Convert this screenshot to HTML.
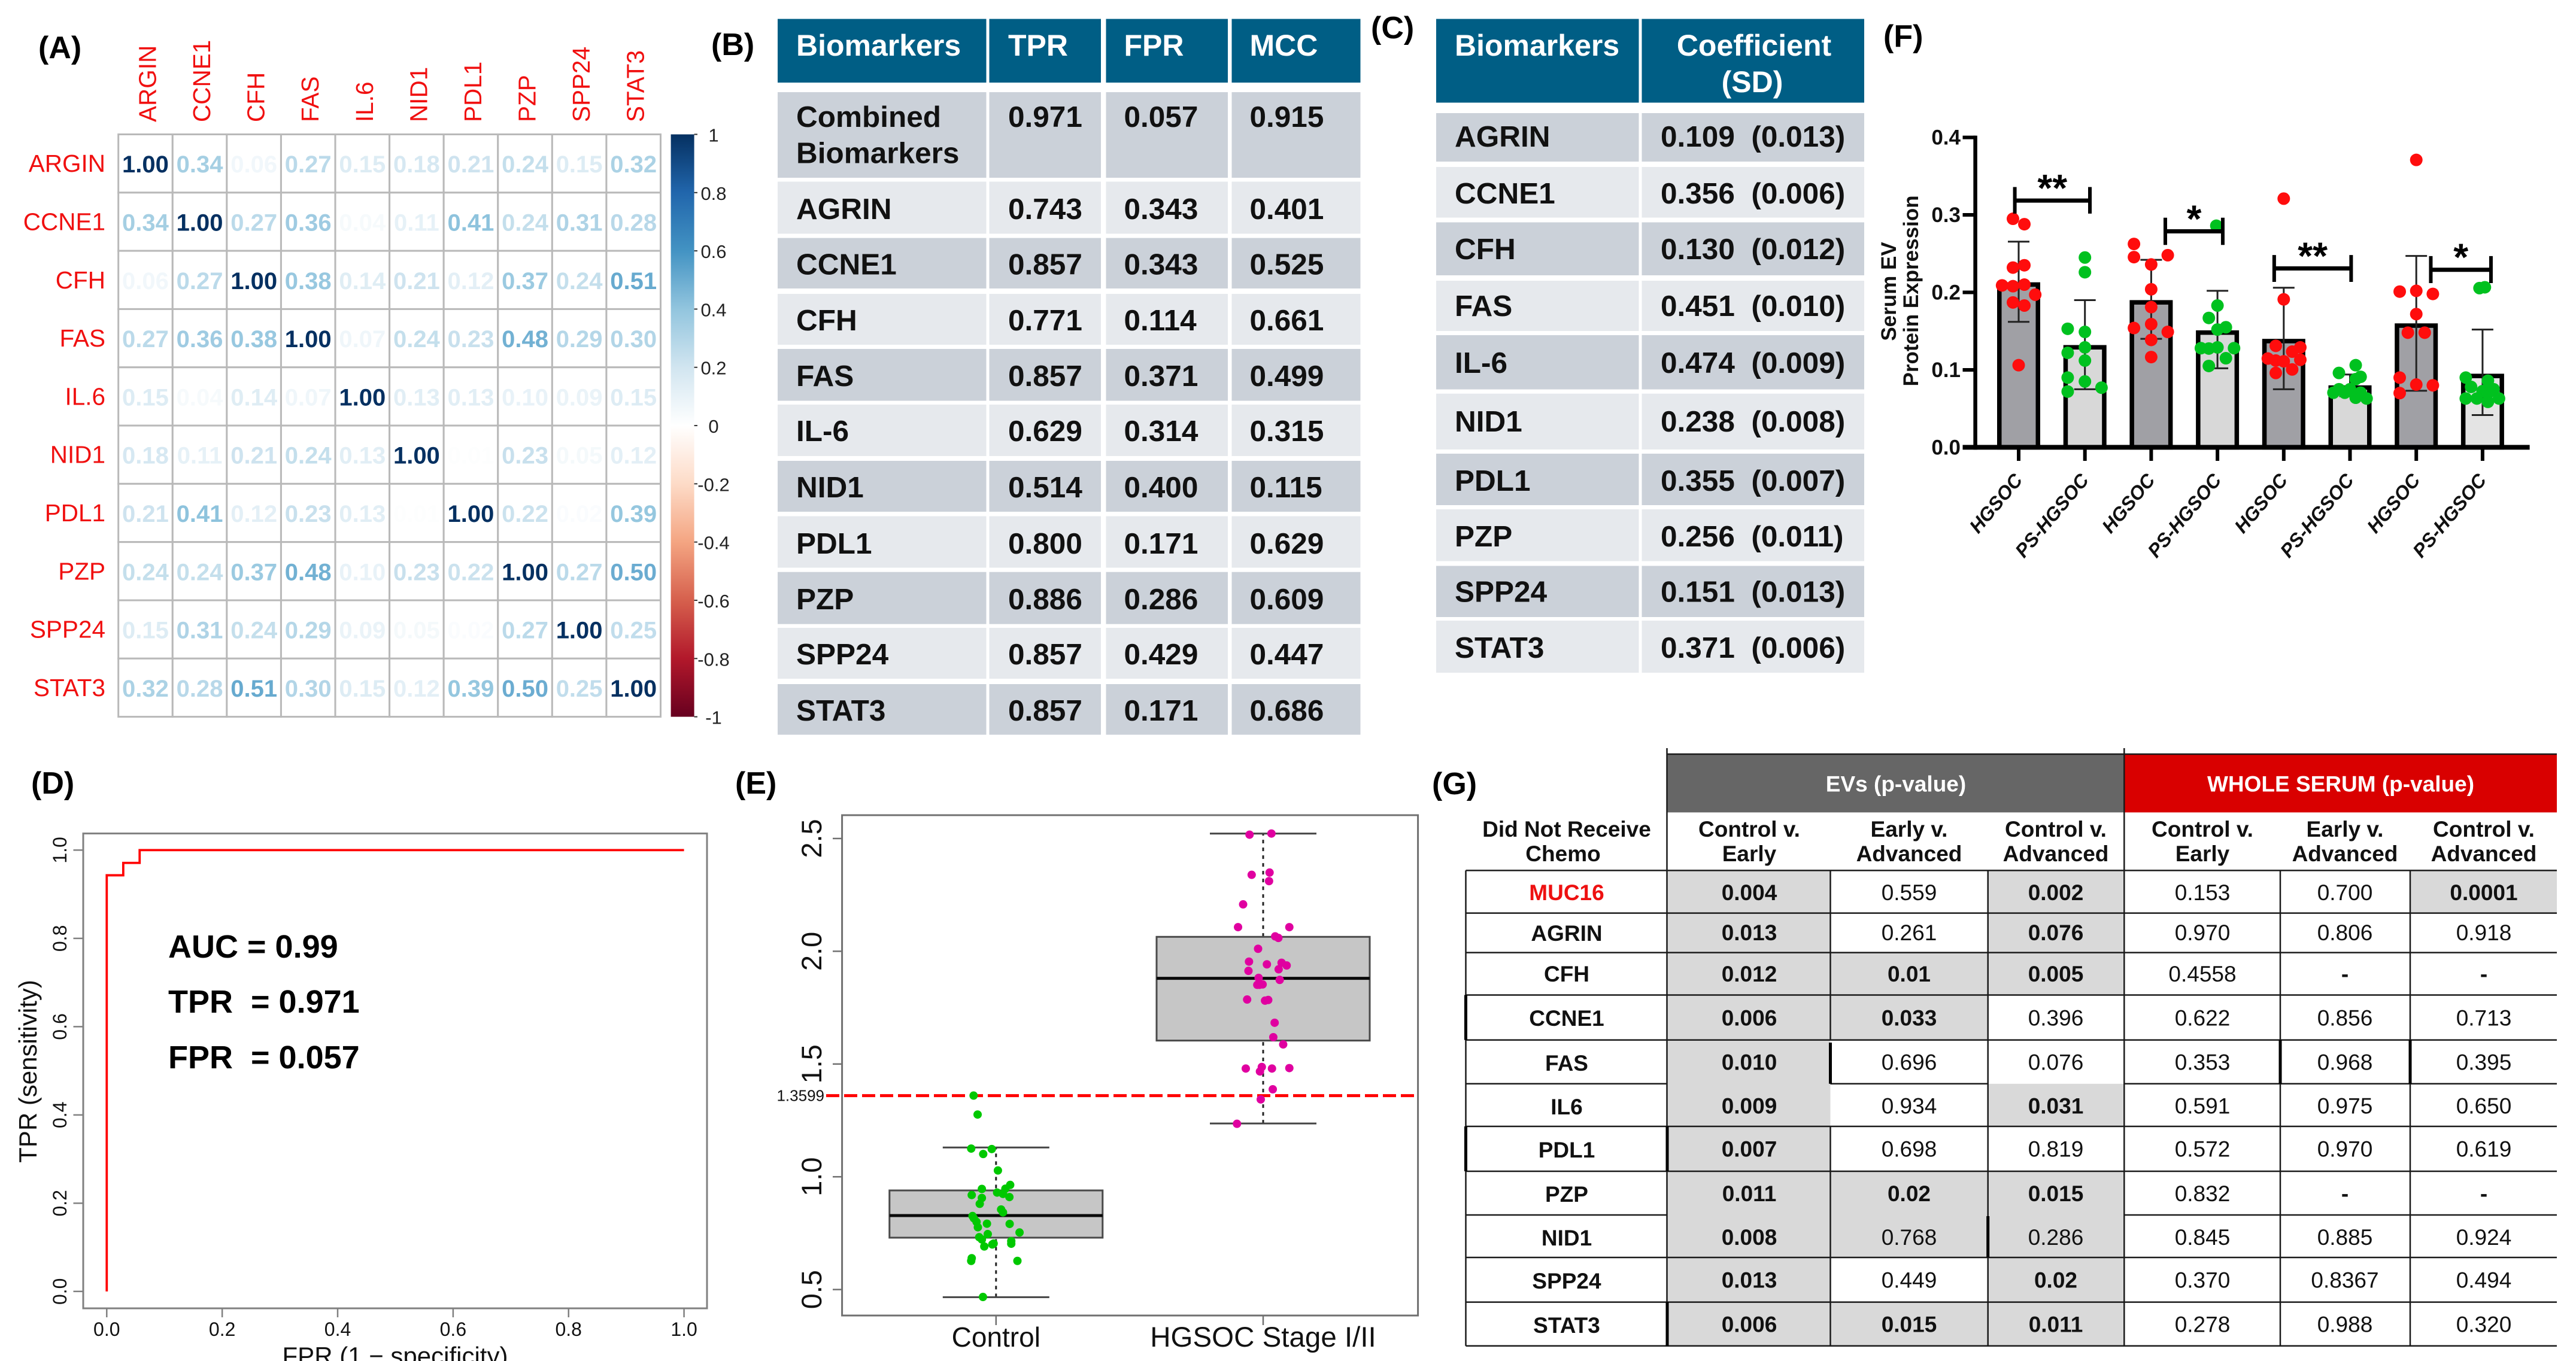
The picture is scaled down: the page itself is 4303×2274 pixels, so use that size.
<!DOCTYPE html>
<html lang="en">
<head>
<meta charset="utf-8">
<title>Biomarker figure panels A-G</title>
<style>
html,body{margin:0;padding:0;background:#fff}
svg{display:block;font-family:"Liberation Sans",sans-serif}
text{white-space:pre}
.plabel{font-weight:700;font-size:52px;fill:#000}
.tb{font-weight:700;font-size:49.5px;fill:#111}
.th{font-weight:700;font-size:50px;fill:#fff}
.dk{fill:#cbd1d9}
.lt{fill:#e6e9ed}
.hd{fill:#005e85}
.gv{font-size:37px;fill:#111;text-anchor:middle}
.gb{font-size:37px;font-weight:700;fill:#111;text-anchor:middle}
.gh{font-size:37px;font-weight:700;fill:#fff;text-anchor:middle}
.gs{fill:#d9d9d9}
.gl{stroke:#1a1a1a;stroke-width:2.5;fill:none}
.gt{stroke:#000;stroke-width:5;fill:none}
.stat{font-weight:700;font-size:54px;fill:#000}
</style>
</head>
<body>
<svg id="fig" xmlns="http://www.w3.org/2000/svg" width="4303" height="2274" viewBox="0 0 4303 2274">
<rect x="0" y="0" width="4303" height="2274" fill="#fff"/>

<text class="plabel" x="64" y="97">(A)</text>
<text class="plabel" x="1188" y="92">(B)</text>
<text class="plabel" x="2290" y="64">(C)</text>
<text class="plabel" x="3146" y="78">(F)</text>
<text class="plabel" x="52" y="1326">(D)</text>
<text class="plabel" x="1228" y="1326">(E)</text>
<text class="plabel" x="2392" y="1327">(G)</text>

<g id="heatmap"></g>

<g id="table-b">
<rect class="hd" x="1299" y="31.6" width="973.5" height="106.4"/>
<rect class="dk" x="1299" y="154" width="973.5" height="143"/>
<rect class="lt" x="1299" y="303.5" width="973.5" height="87"/>
<rect class="dk" x="1299" y="397.6" width="973.5" height="84.4"/>
<rect class="lt" x="1299" y="491" width="973.5" height="85"/>
<rect class="dk" x="1299" y="583" width="973.5" height="86.6"/>
<rect class="lt" x="1299" y="676" width="973.5" height="86"/>
<rect class="dk" x="1299" y="770" width="973.5" height="85"/>
<rect class="lt" x="1299" y="862.5" width="973.5" height="86"/>
<rect class="dk" x="1299" y="955.7" width="973.5" height="87"/>
<rect class="lt" x="1299" y="1049" width="973.5" height="85"/>
<rect class="dk" x="1299" y="1143" width="973.5" height="84.6"/>
<rect x="1647.5" y="31" width="5" height="1197" fill="#fff"/>
<rect x="1839" y="31" width="8.5" height="1197" fill="#fff"/>
<rect x="2051" y="31" width="6.5" height="1197" fill="#fff"/>
<text class="th" x="1330" y="93">Biomarkers</text>
<text class="th" x="1684" y="93">TPR</text>
<text class="th" x="1877.5" y="93">FPR</text>
<text class="th" x="2087.5" y="93">MCC</text>
<text class="tb" x="1330" y="212">Combined</text>
<text class="tb" x="1330" y="272.7">Biomarkers</text>
<text class="tb" x="1684" y="212">0.971</text><text class="tb" x="1877.5" y="212">0.057</text><text class="tb" x="2087.5" y="212">0.915</text>
<text class="tb" x="1330" y="366">AGRIN</text><text class="tb" x="1684" y="366">0.743</text><text class="tb" x="1877.5" y="366">0.343</text><text class="tb" x="2087.5" y="366">0.401</text>
<text class="tb" x="1330" y="458.5">CCNE1</text><text class="tb" x="1684" y="458.5">0.857</text><text class="tb" x="1877.5" y="458.5">0.343</text><text class="tb" x="2087.5" y="458.5">0.525</text>
<text class="tb" x="1330" y="552">CFH</text><text class="tb" x="1684" y="552">0.771</text><text class="tb" x="1877.5" y="552">0.114</text><text class="tb" x="2087.5" y="552">0.661</text>
<text class="tb" x="1330" y="645">FAS</text><text class="tb" x="1684" y="645">0.857</text><text class="tb" x="1877.5" y="645">0.371</text><text class="tb" x="2087.5" y="645">0.499</text>
<text class="tb" x="1330" y="737">IL-6</text><text class="tb" x="1684" y="737">0.629</text><text class="tb" x="1877.5" y="737">0.314</text><text class="tb" x="2087.5" y="737">0.315</text>
<text class="tb" x="1330" y="831">NID1</text><text class="tb" x="1684" y="831">0.514</text><text class="tb" x="1877.5" y="831">0.400</text><text class="tb" x="2087.5" y="831">0.115</text>
<text class="tb" x="1330" y="925">PDL1</text><text class="tb" x="1684" y="925">0.800</text><text class="tb" x="1877.5" y="925">0.171</text><text class="tb" x="2087.5" y="925">0.629</text>
<text class="tb" x="1330" y="1018">PZP</text><text class="tb" x="1684" y="1018">0.886</text><text class="tb" x="1877.5" y="1018">0.286</text><text class="tb" x="2087.5" y="1018">0.609</text>
<text class="tb" x="1330" y="1110">SPP24</text><text class="tb" x="1684" y="1110">0.857</text><text class="tb" x="1877.5" y="1110">0.429</text><text class="tb" x="2087.5" y="1110">0.447</text>
<text class="tb" x="1330" y="1204">STAT3</text><text class="tb" x="1684" y="1204">0.857</text><text class="tb" x="1877.5" y="1204">0.171</text><text class="tb" x="2087.5" y="1204">0.686</text>
</g>

<g id="table-c">
<rect class="hd" x="2399" y="31.6" width="715" height="139.9"/>
<rect class="dk" x="2399" y="189" width="715" height="81"/>
<rect class="lt" x="2399" y="279" width="715" height="84.6"/>
<rect class="dk" x="2399" y="371.5" width="715" height="88.5"/>
<rect class="lt" x="2399" y="469" width="715" height="84"/>
<rect class="dk" x="2399" y="560" width="715" height="90.6"/>
<rect class="lt" x="2399" y="657.7" width="715" height="93.3"/>
<rect class="dk" x="2399" y="758" width="715" height="86"/>
<rect class="lt" x="2399" y="851" width="715" height="86.5"/>
<rect class="dk" x="2399" y="945.5" width="715" height="85.5"/>
<rect class="lt" x="2399" y="1037" width="715" height="87"/>
<rect x="2737.5" y="31" width="5" height="1094" fill="#fff"/>
<text class="th" x="2430" y="93">Biomarkers</text>
<text class="th" x="2930" y="93" text-anchor="middle">Coefficient</text>
<text class="th" x="2927" y="154" text-anchor="middle">(SD)</text>
<text class="tb" x="2430" y="245">AGRIN</text><text class="tb" x="2774" y="245">0.109  (0.013)</text>
<text class="tb" x="2430" y="340">CCNE1</text><text class="tb" x="2774" y="340">0.356  (0.006)</text>
<text class="tb" x="2430" y="433">CFH</text><text class="tb" x="2774" y="433">0.130  (0.012)</text>
<text class="tb" x="2430" y="528">FAS</text><text class="tb" x="2774" y="528">0.451  (0.010)</text>
<text class="tb" x="2430" y="623">IL-6</text><text class="tb" x="2774" y="623">0.474  (0.009)</text>
<text class="tb" x="2430" y="721">NID1</text><text class="tb" x="2774" y="721">0.238  (0.008)</text>
<text class="tb" x="2430" y="820">PDL1</text><text class="tb" x="2774" y="820">0.355  (0.007)</text>
<text class="tb" x="2430" y="913">PZP</text><text class="tb" x="2774" y="913">0.256  (0.011)</text>
<text class="tb" x="2430" y="1005.5">SPP24</text><text class="tb" x="2774" y="1005.5">0.151  (0.013)</text>
<text class="tb" x="2430" y="1099">STAT3</text><text class="tb" x="2774" y="1099">0.371  (0.006)</text>
</g>

<g id="barplot"></g>
<g id="roc">
<text class="stat" x="281" y="1600">AUC = 0.99</text>
<text class="stat" x="281" y="1692">TPR  = 0.971</text>
<text class="stat" x="281" y="1785">FPR  = 0.057</text>
</g>
<g id="boxplot"></g>

<g id="table-g">
<rect x="2784.7" y="1260" width="763.3" height="97.4" fill="#666"/>
<rect x="3548" y="1260" width="723" height="97.4" fill="#d90000"/>
<text class="gh" x="3167" y="1322.5">EVs (p-value)</text>
<text class="gh" x="3910" y="1322.5">WHOLE SERUM (p-value)</text>
<rect class="gs" x="2784.5" y="1454.4" width="273" height="794.3"/>
<rect class="gs" x="3057.5" y="1591.6" width="263.2" height="146"/>
<rect class="gs" x="3057.5" y="1957" width="263.2" height="144"/>
<rect class="gs" x="3057.5" y="2175.6" width="263.2" height="73.1"/>
<rect class="gs" x="3320.7" y="1454.4" width="227.6" height="208.1"/>
<rect class="gs" x="3320.7" y="1810.8" width="227.6" height="71.2"/>
<rect class="gs" x="3320.7" y="1957" width="227.6" height="291.7"/>
<rect class="gs" x="4026" y="1454.4" width="245" height="71.2"/>
<path class="gl" d="M2784.5 1260H4271M2784.5 1250V2248.7M3548.3 1250V2248.7M2448.5 1454.4V2248.7M3057.5 1454.4V1737.6M3057.5 1882V2248.7M3320.7 1454.4V2248.7M3809 1454.4V2248.7M4026 1454.4V2248.7"/>
<path class="gl" d="M2448.5 1454.4H4271M2448.5 1525.6H4271M2448.5 1591.6H4271M2448.5 1662.5H4271M2448.5 1737.6H4271M2448.5 1810.8H2784.5M3057.5 1810.8H3320.7M3548.3 1810.8H4271M2448.5 1882H4271M2448.5 1957H4271M2448.5 2030H2784.5M3548.3 2030H4271M2448.5 2101H4271M2448.5 2175.6H4271M2448.5 2248.7H4271"/>
<path class="gt" d="M2448.5 1662.5V1737.6M2448.5 1882V1957M2785 1882V1957M2785 2175.6V2248.7M3057.5 1742V1810.8M3320.7 2032V2101M3809 1737.6V1810.8M4026 1737.6V1810.8"/>
<text class="gb" x="2617" y="1398">Did Not Receive</text>
<text class="gb" x="2611" y="1439">Chemo</text>
<text class="gb" x="2922" y="1398">Control v.</text><text class="gb" x="2922" y="1439">Early</text>
<text class="gb" x="3189" y="1398">Early v.</text><text class="gb" x="3189" y="1439">Advanced</text>
<text class="gb" x="3434" y="1398">Control v.</text><text class="gb" x="3434" y="1439">Advanced</text>
<text class="gb" x="3679" y="1398">Control v.</text><text class="gb" x="3679" y="1439">Early</text>
<text class="gb" x="3917" y="1398">Early v.</text><text class="gb" x="3917" y="1439">Advanced</text>
<text class="gb" x="4149" y="1398">Control v.</text><text class="gb" x="4149" y="1439">Advanced</text>

<text class="gb" style="fill:#ee1111" x="2617" y="1504">MUC16</text><text class="gb" x="2922" y="1504">0.004</text><text class="gv" x="3189" y="1504">0.559</text><text class="gb" x="3434" y="1504">0.002</text><text class="gv" x="3679" y="1504">0.153</text><text class="gv" x="3917" y="1504">0.700</text><text class="gb" x="4149" y="1504">0.0001</text>
<text class="gb" x="2617" y="1572">AGRIN</text><text class="gb" x="2922" y="1571">0.013</text><text class="gv" x="3189" y="1571">0.261</text><text class="gb" x="3434" y="1571">0.076</text><text class="gv" x="3679" y="1571">0.970</text><text class="gv" x="3917" y="1571">0.806</text><text class="gv" x="4149" y="1571">0.918</text>
<text class="gb" x="2617" y="1640">CFH</text><text class="gb" x="2922" y="1640">0.012</text><text class="gb" x="3189" y="1640">0.01</text><text class="gb" x="3434" y="1640">0.005</text><text class="gv" x="3679" y="1640">0.4558</text><text class="gb" x="3917" y="1640">-</text><text class="gb" x="4149" y="1640">-</text>
<text class="gb" x="2617" y="1714">CCNE1</text><text class="gb" x="2922" y="1713.6">0.006</text><text class="gb" x="3189" y="1713.6">0.033</text><text class="gv" x="3434" y="1713.6">0.396</text><text class="gv" x="3679" y="1713.6">0.622</text><text class="gv" x="3917" y="1713.6">0.856</text><text class="gv" x="4149" y="1713.6">0.713</text>
<text class="gb" x="2617" y="1789">FAS</text><text class="gb" x="2922" y="1787.5">0.010</text><text class="gv" x="3189" y="1787.5">0.696</text><text class="gv" x="3434" y="1787.5">0.076</text><text class="gv" x="3679" y="1787.5">0.353</text><text class="gv" x="3917" y="1787.5">0.968</text><text class="gv" x="4149" y="1787.5">0.395</text>
<text class="gb" x="2617" y="1862">IL6</text><text class="gb" x="2922" y="1860.7">0.009</text><text class="gv" x="3189" y="1860.7">0.934</text><text class="gb" x="3434" y="1860.7">0.031</text><text class="gv" x="3679" y="1860.7">0.591</text><text class="gv" x="3917" y="1860.7">0.975</text><text class="gv" x="4149" y="1860.7">0.650</text>
<text class="gb" x="2617" y="1934">PDL1</text><text class="gb" x="2922" y="1932.6">0.007</text><text class="gv" x="3189" y="1932.6">0.698</text><text class="gv" x="3434" y="1932.6">0.819</text><text class="gv" x="3679" y="1932.6">0.572</text><text class="gv" x="3917" y="1932.6">0.970</text><text class="gv" x="4149" y="1932.6">0.619</text>
<text class="gb" x="2617" y="2008">PZP</text><text class="gb" x="2922" y="2007">0.011</text><text class="gb" x="3189" y="2007">0.02</text><text class="gb" x="3434" y="2007">0.015</text><text class="gv" x="3679" y="2007">0.832</text><text class="gb" x="3917" y="2007">-</text><text class="gb" x="4149" y="2007">-</text>
<text class="gb" x="2617" y="2081">NID1</text><text class="gb" x="2922" y="2080">0.008</text><text class="gv" x="3189" y="2080">0.768</text><text class="gv" x="3434" y="2080">0.286</text><text class="gv" x="3679" y="2080">0.845</text><text class="gv" x="3917" y="2080">0.885</text><text class="gv" x="4149" y="2080">0.924</text>
<text class="gb" x="2617" y="2153">SPP24</text><text class="gb" x="2922" y="2151.6">0.013</text><text class="gv" x="3189" y="2151.6">0.449</text><text class="gb" x="3434" y="2151.6">0.02</text><text class="gv" x="3679" y="2151.6">0.370</text><text class="gv" x="3917" y="2151.6">0.8367</text><text class="gv" x="4149" y="2151.6">0.494</text>
<text class="gb" x="2617" y="2227">STAT3</text><text class="gb" x="2922" y="2225.5">0.006</text><text class="gb" x="3189" y="2225.5">0.015</text><text class="gb" x="3434" y="2225.5">0.011</text><text class="gv" x="3679" y="2225.5">0.278</text><text class="gv" x="3917" y="2225.5">0.988</text><text class="gv" x="4149" y="2225.5">0.320</text>
</g>
</svg>

<script>
/* ---------- Panel A data ---------- */
const heatLabels = ['ARGIN','CCNE1','CFH','FAS','IL.6','NID1','PDL1','PZP','SPP24','STAT3'];
const heatRow1 = [1.00,0.34,0.06,0.27,0.15,0.18,0.21,0.24,0.15,0.32];
const heatRow2 = [0.34,1.00,0.27,0.36,0.04,0.11,0.41,0.24,0.31,0.28];
const heatRow3 = [0.06,0.27,1.00,0.38,0.14,0.21,0.12,0.37,0.24,0.51];
const heatRow4 = [0.27,0.36,0.38,1.00,0.07,0.24,0.23,0.48,0.29,0.30];
const heatRow5 = [0.15,0.04,0.14,0.07,1.00,0.13,0.13,0.10,0.09,0.15];
const heatRow6 = [0.18,0.11,0.21,0.24,0.13,1.00,0.01,0.23,0.05,0.12];
const heatRow7 = [0.21,0.41,0.12,0.23,0.13,0.01,1.00,0.22,0.02,0.39];
const heatRow8 = [0.24,0.24,0.37,0.48,0.10,0.23,0.22,1.00,0.27,0.50];
const heatRow9 = [0.15,0.31,0.24,0.29,0.09,0.05,0.02,0.27,1.00,0.25];
const heatRow10 = [0.32,0.28,0.51,0.30,0.15,0.12,0.39,0.50,0.25,1.00];
const heatRows = [heatRow1,heatRow2,heatRow3,heatRow4,heatRow5,heatRow6,heatRow7,heatRow8,heatRow9,heatRow10];
const rampColors = ['#67001f','#b2182b','#d6604d','#f4a582','#fddbc7','#ffffff','#d1e5f0','#92c5de','#4393c3','#2166ac','#053061'];
const legendTicks = [1,0.8,0.6,0.4,0.2,0,-0.2,-0.4,-0.6,-0.8,-1];

/* ---------- Panel D data ---------- */
const rocFpr = [0,0,0.0286,0.0286,0.057,0.057,1];
const rocTpr = [0,0.943,0.943,0.971,0.971,1,1];
const rocTicks = [0,0.2,0.4,0.6,0.8,1];
const rocTickLabels = ['0.0','0.2','0.4','0.6','0.8','1.0'];

/* ---------- Panel E data ---------- */
const boxGroups = ['Control','HGSOC Stage I/II'];
const boxWhiskLow = [0.466,1.2365];
const boxQ1 = [0.73,1.604];
const boxMedian = [0.828,1.88];
const boxQ3 = [0.9395,2.064];
const boxWhiskHigh = [1.13,2.522];
const boxThreshold = 1.3599;
const boxTicks = [0.5,1,1.5,2,2.5];
const boxTickLabels = ['0.5','1.0','1.5','2.0','2.5'];
const controlValues = [1.36,1.276,1.125,1.123,1.101,1.028,0.964,0.947,0.946,0.93,0.924,0.919,0.91,0.906,0.88,0.855,0.842,0.826,0.816,0.80,0.792,0.791,0.776,0.753,0.746,0.732,0.722,0.704,0.70,0.715,0.703,0.691,0.639,0.627,0.627,0.467];
const controlJitter = [-0.084,-0.069,-0.093,-0.016,-0.048,0.007,0.053,0.035,-0.053,0.004,0.026,-0.091,0.05,-0.053,-0.061,0.019,0.026,-0.088,-0.083,-0.073,-0.034,0.051,-0.068,0.088,-0.031,-0.063,-0.053,-0.009,-0.014,0.057,0.057,-0.044,-0.091,-0.093,0.08,-0.049];
const hgsocValues = [2.517,2.522,2.349,2.339,2.311,2.208,2.107,2.107,2.066,2.059,2.011,1.954,1.949,1.942,1.937,1.913,1.92,1.882,1.873,1.851,1.853,1.851,1.786,1.781,1.784,1.683,1.619,1.587,1.48,1.487,1.467,1.48,1.482,1.388,1.343,1.235];
const hgsocJitter = [-0.051,0.031,0.024,-0.043,0.022,-0.075,-0.094,0.098,0.045,0.057,-0.019,-0.053,0.069,0.014,0.088,-0.055,0.058,-0.017,0.062,-0.022,-0.002,-0.014,-0.060,0.007,0.019,0.043,0.038,0.075,-0.065,-0.005,-0.012,0.033,0.098,0.036,-0.009,-0.098];

/* ---------- Panel F data ---------- */
const barCategories = ['HGSOC','PS-HGSOC','HGSOC','PS-HGSOC','HGSOC','PS-HGSOC','HGSOC','PS-HGSOC'];
const barMeans = [0.213,0.132,0.19,0.151,0.14,0.08,0.16,0.095];
const barErrLow = [0.162,0.075,0.14,0.102,0.075,0.066,0.073,0.0416];
const barErrHigh = [0.2655,0.19,0.242,0.202,0.206,0.094,0.247,0.152];
const barFills = ['#a0a0a5','#d8d8d8','#a0a0a5','#d8d8d8','#a0a0a5','#d8d8d8','#a0a0a5','#e4e4e4'];
const barTicks = [0,0.1,0.2,0.3,0.4];
const barTickLabels = ['0.0','0.1','0.2','0.3','0.4'];
const pts1 = [0.295,0.288,0.232,0.235,0.209,0.208,0.210,0.197,0.187,0.183,0.106];
const jit1 = [-0.086,0.086,-0.086,0.086,-0.25,-0.086,0.086,0.25,-0.086,0.086,0];
const pts2 = [0.245,0.226,0.153,0.149,0.129,0.122,0.112,0.090,0.085,0.072,0.077];
const jit2 = [0,0,-0.26,0,0,-0.26,0,-0.26,0,-0.26,0.25];
const pts3 = [0.2625,0.2455,0.248,0.236,0.204,0.181,0.159,0.154,0.149,0.1386,0.1165];
const jit3 = [-0.26,-0.26,0.25,0,0,0,0,-0.26,0.25,0,0];
const pts4 = [0.286,0.183,0.167,0.155,0.152,0.128,0.1275,0.129,0.128,0.115,0.105];
const jit4 = [-0.017,0,-0.13,0.127,0,-0.25,-0.13,0,0.25,0.127,-0.13];
const pts5 = [0.321,0.191,0.131,0.129,0.1235,0.1146,0.113,0.112,0.111,0.1005,0.096];
const jit5 = [0,0,-0.12,0.25,0.127,-0.24,0.25,-0.12,0,0.127,-0.12];
const pts6 = [0.106,0.091,0.088,0.096,0.0705,0.0705,0.075,0.075,0.064,0.063,0.0705];
const jit6 = [0.086,0.16,0.086,-0.167,-0.25,-0.08,-0.167,0,0.086,0.25,0.16];
const pts7 = [0.371,0.201,0.202,0.198,0.172,0.148,0.148,0.090,0.081,0.080,0.070];
const jit7 = [0,-0.25,0,0.25,0,-0.127,0.127,-0.25,0,0.25,-0.25];
const pts8 = [0.2055,0.2066,0.090,0.086,0.078,0.075,0.0725,0.07,0.063,0.063,0.0587,0.063];
const jit8 = [-0.046,0.035,-0.253,0.081,-0.173,0.167,0,0.081,-0.253,-0.086,0.081,0.248];
const barPoints = [pts1,pts2,pts3,pts4,pts5,pts6,pts7,pts8];
const barJitter = [jit1,jit2,jit3,jit4,jit5,jit6,jit7,jit8];
const bracketFrom = [-0.058,2.213,3.856,6.219];
const bracketTo = [1.075,3.08,5.017,7.127];
const bracketLevel = [0.3185,0.2788,0.2309,0.2292];
const bracketTop = [0.336,0.2964,0.2482,0.2468];
const bracketBottom = [0.3017,0.2612,0.2135,0.212];
const bracketStars = ['**','*','**','*'];

/* ---------- Helpers ---------- */
const SVGNS = 'http://www.w3.org/2000/svg';
function make(tag, attrs, parent, content) {
  const n = document.createElementNS(SVGNS, tag);
  for (const k in attrs) n.setAttribute(k, attrs[k]);
  if (content !== undefined) n.textContent = content;
  parent.appendChild(n);
  return n;
}
function rampColor(v) {
  const t = Math.max(0, Math.min(10, (v + 1) / 2 * 10));
  const i = Math.min(9, Math.floor(t));
  const f = t - i;
  const a = rampColors[i], b = rampColors[i + 1];
  const c = [1, 3, 5].map(function (p) {
    const x = parseInt(a.substr(p, 2), 16), y = parseInt(b.substr(p, 2), 16);
    return Math.round(x + (y - x) * f);
  });
  return 'rgb(' + c.join(',') + ')';
}

/* ---------- Panel A: heatmap ---------- */
(function () {
  const g = document.getElementById('heatmap');
  const X0 = 197.7, Y0 = 224.5, CW = 90.58, CH = 97.31;
  const hx = function (i) { return X0 + i * CW; };
  const hy = function (i) { return Y0 + i * CH; };
  heatLabels.forEach(function (lab, i) {
    const el = make('text', { x: 176, y: hy(i) + CH / 2 + 14, 'text-anchor': 'end', 'font-size': 40.5, fill: '#f01010' }, g, lab);
    
    
    const cx = hx(i) + CW / 2 + 17.5;
    const col = make('text', { transform: 'translate(' + cx + ',204) rotate(-90)', 'font-size': 40.5, fill: '#f01010' }, g, lab);
    
    
  });
  heatRows.forEach(function (row, r) {
    row.forEach(function (v, c) {
      const cell = make('rect', { x: hx(c), y: hy(r), width: CW, height: CH, fill: '#fff', stroke: '#b9b9b9', 'stroke-width': 3 }, g);
      
      
    });
  });
  heatRows.forEach(function (row, r) {
    row.forEach(function (v, c) {
      const label = make('text', { x: hx(c) + CW / 2, y: hy(r) + CH / 2 + 15, 'text-anchor': 'middle', 'font-size': 40, 'font-weight': 700, fill: rampColor(v) }, g, v.toFixed(2));
      
      
    });
  });
  const defs = make('defs', {}, g);
  const grad = make('linearGradient', { id: 'rampGrad', x1: 0, y1: 0, x2: 0, y2: 1 }, defs);
  rampColors.slice().reverse().forEach(function (c, i) {
    make('stop', { offset: i / 10, 'stop-color': c }, grad);
  });
  const BY = function (v) { return Y0 + (1 - v) / 2 * (CH * 10); };
  const bar = make('rect', { x: 1120.6, y: BY(1), width: 39, height: BY(-1) - BY(1), fill: 'url(#rampGrad)' }, g);
  
  
  legendTicks.forEach(function (v) {
    const tick = make('line', { x1: 1159.6, x2: 1165, y1: BY(v), y2: BY(v), stroke: '#333', 'stroke-width': 2 }, g);
    
    
    const t = make('text', { x: 1192, y: BY(v) + 12, 'text-anchor': 'middle', 'font-size': 31, fill: '#222' }, g, String(v));
    
    
  });
})();

/* ---------- Panel D: ROC ---------- */
(function () {
  const g = document.getElementById('roc');
  const sx = function (v) { return 178.3 + v * 964.3; };
  const sy = function (v) { return 2157.8 - v * 737.4; };
  const frame = make('rect', { x: 139, y: 1392.6, width: 1042, height: 793.4, fill: 'none', stroke: '#808080', 'stroke-width': 3 }, g);
  
  
  rocTicks.forEach(function (v, i) {
    const tx = make('line', { x1: sx(v), x2: sx(v), y1: 2186, y2: 2201, stroke: '#808080', 'stroke-width': 2.5 }, g);
    
    
    const lx = make('text', { x: sx(v), y: 2232, 'text-anchor': 'middle', 'font-size': 32, fill: '#111' }, g, rocTickLabels[i]);
    
    
    const ty = make('line', { x1: 122.5, x2: 139, y1: sy(v), y2: sy(v), stroke: '#808080', 'stroke-width': 2.5 }, g);
    
    
    const ly = make('text', { transform: 'translate(111,' + sy(v) + ') rotate(-90)', 'text-anchor': 'middle', 'font-size': 32, fill: '#111' }, g, rocTickLabels[i]);
    
    
  });
  const xt = make('text', { x: 660, y: 2280, 'text-anchor': 'middle', 'font-size': 42, fill: '#111' }, g, 'FPR (1 \u2212 specificity)');
  
  
  const yt = make('text', { transform: 'translate(61,1790) rotate(-90)', 'text-anchor': 'middle', 'font-size': 42, fill: '#111' }, g, 'TPR (sensitivity)');
  
  
  const pts = rocFpr.map(function (f, i) { return sx(f) + ',' + sy(rocTpr[i]); }).join(' ');
  const curve = make('polyline', { points: pts, fill: 'none', stroke: '#ff0000', 'stroke-width': 3.8 }, g);
  
  
})();

/* ---------- Panel E: box plot ---------- */
(function () {
  const g = document.getElementById('boxplot');
  const sy = function (v) { return 2154.6 - (v - 0.5) * 376.8; };
  const cat = function (c) { return 1663.8 + c * 446.2; };
  const frame = make('rect', { x: 1406.6, y: 1362, width: 962, height: 836, fill: 'none', stroke: '#707070', 'stroke-width': 3 }, g);
  
  
  boxTicks.forEach(function (v, i) {
    const t = make('line', { x1: 1391, x2: 1406.6, y1: sy(v), y2: sy(v), stroke: '#707070', 'stroke-width': 2.5 }, g);
    
    
    const l = make('text', { transform: 'translate(1372,' + sy(v) + ') rotate(-90)', 'text-anchor': 'middle', 'font-size': 47, fill: '#111' }, g, boxTickLabels[i]);
    
    
  });
  boxGroups.forEach(function (name, i) {
    const cx = cat(i);
    const w = make('line', { x1: cx, x2: cx, y1: sy(boxWhiskLow[i]), y2: sy(boxWhiskHigh[i]), stroke: '#222', 'stroke-width': 3, 'stroke-dasharray': '6 7' }, g);
    
    
    [boxWhiskLow[i], boxWhiskHigh[i]].forEach(function (v) {
      const cap = make('line', { x1: cx - 89, x2: cx + 89, y1: sy(v), y2: sy(v), stroke: '#444', 'stroke-width': 3 }, g);
      
      
    });
    const b = make('rect', { x: cx - 178, y: sy(boxQ3[i]), width: 356, height: sy(boxQ1[i]) - sy(boxQ3[i]), fill: '#c6c6c6', stroke: '#4a4a4a', 'stroke-width': 3 }, g);
    
    
    const m = make('line', { x1: cx - 178, x2: cx + 178, y1: sy(boxMedian[i]), y2: sy(boxMedian[i]), stroke: '#0a0a0a', 'stroke-width': 5 }, g);
    
    
    const t = make('line', { x1: cx, x2: cx, y1: 2198, y2: 2214, stroke: '#707070', 'stroke-width': 2.5 }, g);
    
    
    const l = make('text', { x: cx, y: 2250, 'text-anchor': 'middle', 'font-size': i === 0 ? 46 : 47.5, fill: '#111' }, g, name);
    
    
  });
  const th = make('line', { x1: 1380, x2: 2368.6, y1: sy(boxThreshold), y2: sy(boxThreshold), stroke: '#ff0000', 'stroke-width': 5, 'stroke-dasharray': '22 8' }, g);
  
  
  const tl = make('text', { x: 1377, y: sy(boxThreshold) + 9, 'text-anchor': 'end', 'font-size': 26, fill: '#111' }, g, String(boxThreshold));
  
  
  controlValues.forEach(function (v, i) {
    const p = make('circle', { cx: cat(controlJitter[i]), cy: sy(v), r: 7, fill: '#00c800' }, g);
    
    
  });
  hgsocValues.forEach(function (v, i) {
    const p = make('circle', { cx: cat(1 + hgsocJitter[i]), cy: sy(v), r: 7, fill: '#e000a0' }, g);
    
    
  });
})();

/* ---------- Panel F: bar chart ---------- */
(function () {
  const g = document.getElementById('barplot');
  const sy = function (v) { return 747.4 - v * 1294.5; };
  const cat = function (c) { return 3372 + c * 110.7; };
  const SW = 7.5, BW = 72;
  barCategories.forEach(function (name, i) {
    const cx = cat(i);
    const r = make('rect', { x: cx - BW / 2 + SW / 2, y: sy(barMeans[i]) + SW / 2, width: BW - SW, height: sy(0) - sy(barMeans[i]) - SW / 2, fill: barFills[i], stroke: '#000', 'stroke-width': SW }, g);
    
    
    const e = make('line', { x1: cx, x2: cx, y1: sy(barErrLow[i]), y2: sy(barErrHigh[i]), stroke: '#222', 'stroke-width': 3 }, g);
    
    
    [barErrLow[i], barErrHigh[i]].forEach(function (v) {
      const c = make('line', { x1: cx - 18, x2: cx + 18, y1: sy(v), y2: sy(v), stroke: '#222', 'stroke-width': 3 }, g);
      
      
    });
  });
  barPoints.forEach(function (list, i) {
    list.forEach(function (v, k) {
      const p = make('circle', { cx: cat(i + barJitter[i][k]), cy: sy(v), r: 10.5, fill: i % 2 === 0 ? '#ff0d0d' : '#00c11f' }, g);
      
      
    });
  });
  const ya = make('line', { x1: 3299.6, x2: 3299.6, y1: sy(0.4) - 3, y2: sy(0) + 4, stroke: '#000', 'stroke-width': 6.5 }, g);
  
  
  const xa = make('line', { x1: 3278.5, x2: 4225.6, y1: sy(0), y2: sy(0), stroke: '#000', 'stroke-width': 8 }, g);
  
  
  barTicks.forEach(function (v, i) {
    const t = make('line', { x1: 3278.5, x2: 3300, y1: sy(v), y2: sy(v), stroke: '#000', 'stroke-width': 6 }, g);
    
    
    const l = make('text', { x: 3275, y: sy(v) + 12, 'text-anchor': 'end', 'font-size': 35, 'font-weight': 700, fill: '#111' }, g, barTickLabels[i]);
    
    
  });
  barCategories.forEach(function (name, i) {
    const cx = cat(i);
    const t = make('line', { x1: cx, x2: cx, y1: sy(0), y2: 770, stroke: '#000', 'stroke-width': 6 }, g);
    
    
    const l = make('text', { transform: 'translate(' + (cx + 8) + ',803) rotate(-50)', 'text-anchor': 'end', 'font-size': 32, 'font-style': 'italic', 'font-weight': 700, fill: '#111' }, g, name);
    
    
  });
  bracketLevel.forEach(function (v, i) {
    const x1 = cat(bracketFrom[i]), x2 = cat(bracketTo[i]);
    const d = 'M' + x1 + ' ' + sy(bracketTop[i]) + 'V' + sy(bracketBottom[i]) + 'M' + x2 + ' ' + sy(bracketTop[i]) + 'V' + sy(bracketBottom[i]);
    const h = make('path', { d: d, fill: 'none', stroke: '#000', 'stroke-width': 6 }, g);
    
    
    const b = make('line', { x1: x1, x2: x2, y1: sy(v), y2: sy(v), stroke: '#000', 'stroke-width': 7 }, g);
    
    
    const s = make('text', { x: (x1 + x2) / 2, y: sy(v) + 1, 'text-anchor': 'middle', 'font-size': 64, 'font-weight': 700, fill: '#000' }, g, bracketStars[i]);
    
    
  });
  const t1 = make('text', { transform: 'translate(3167,487) rotate(-90)', 'text-anchor': 'middle', 'font-size': 35, 'font-weight': 700, fill: '#111' }, g, 'Serum EV');
  
  
  const t2 = make('text', { transform: 'translate(3204,486) rotate(-90)', 'text-anchor': 'middle', 'font-size': 35, 'font-weight': 700, fill: '#111' }, g, 'Protein Expression');
  
  
})();
</script>
</body>
</html>
